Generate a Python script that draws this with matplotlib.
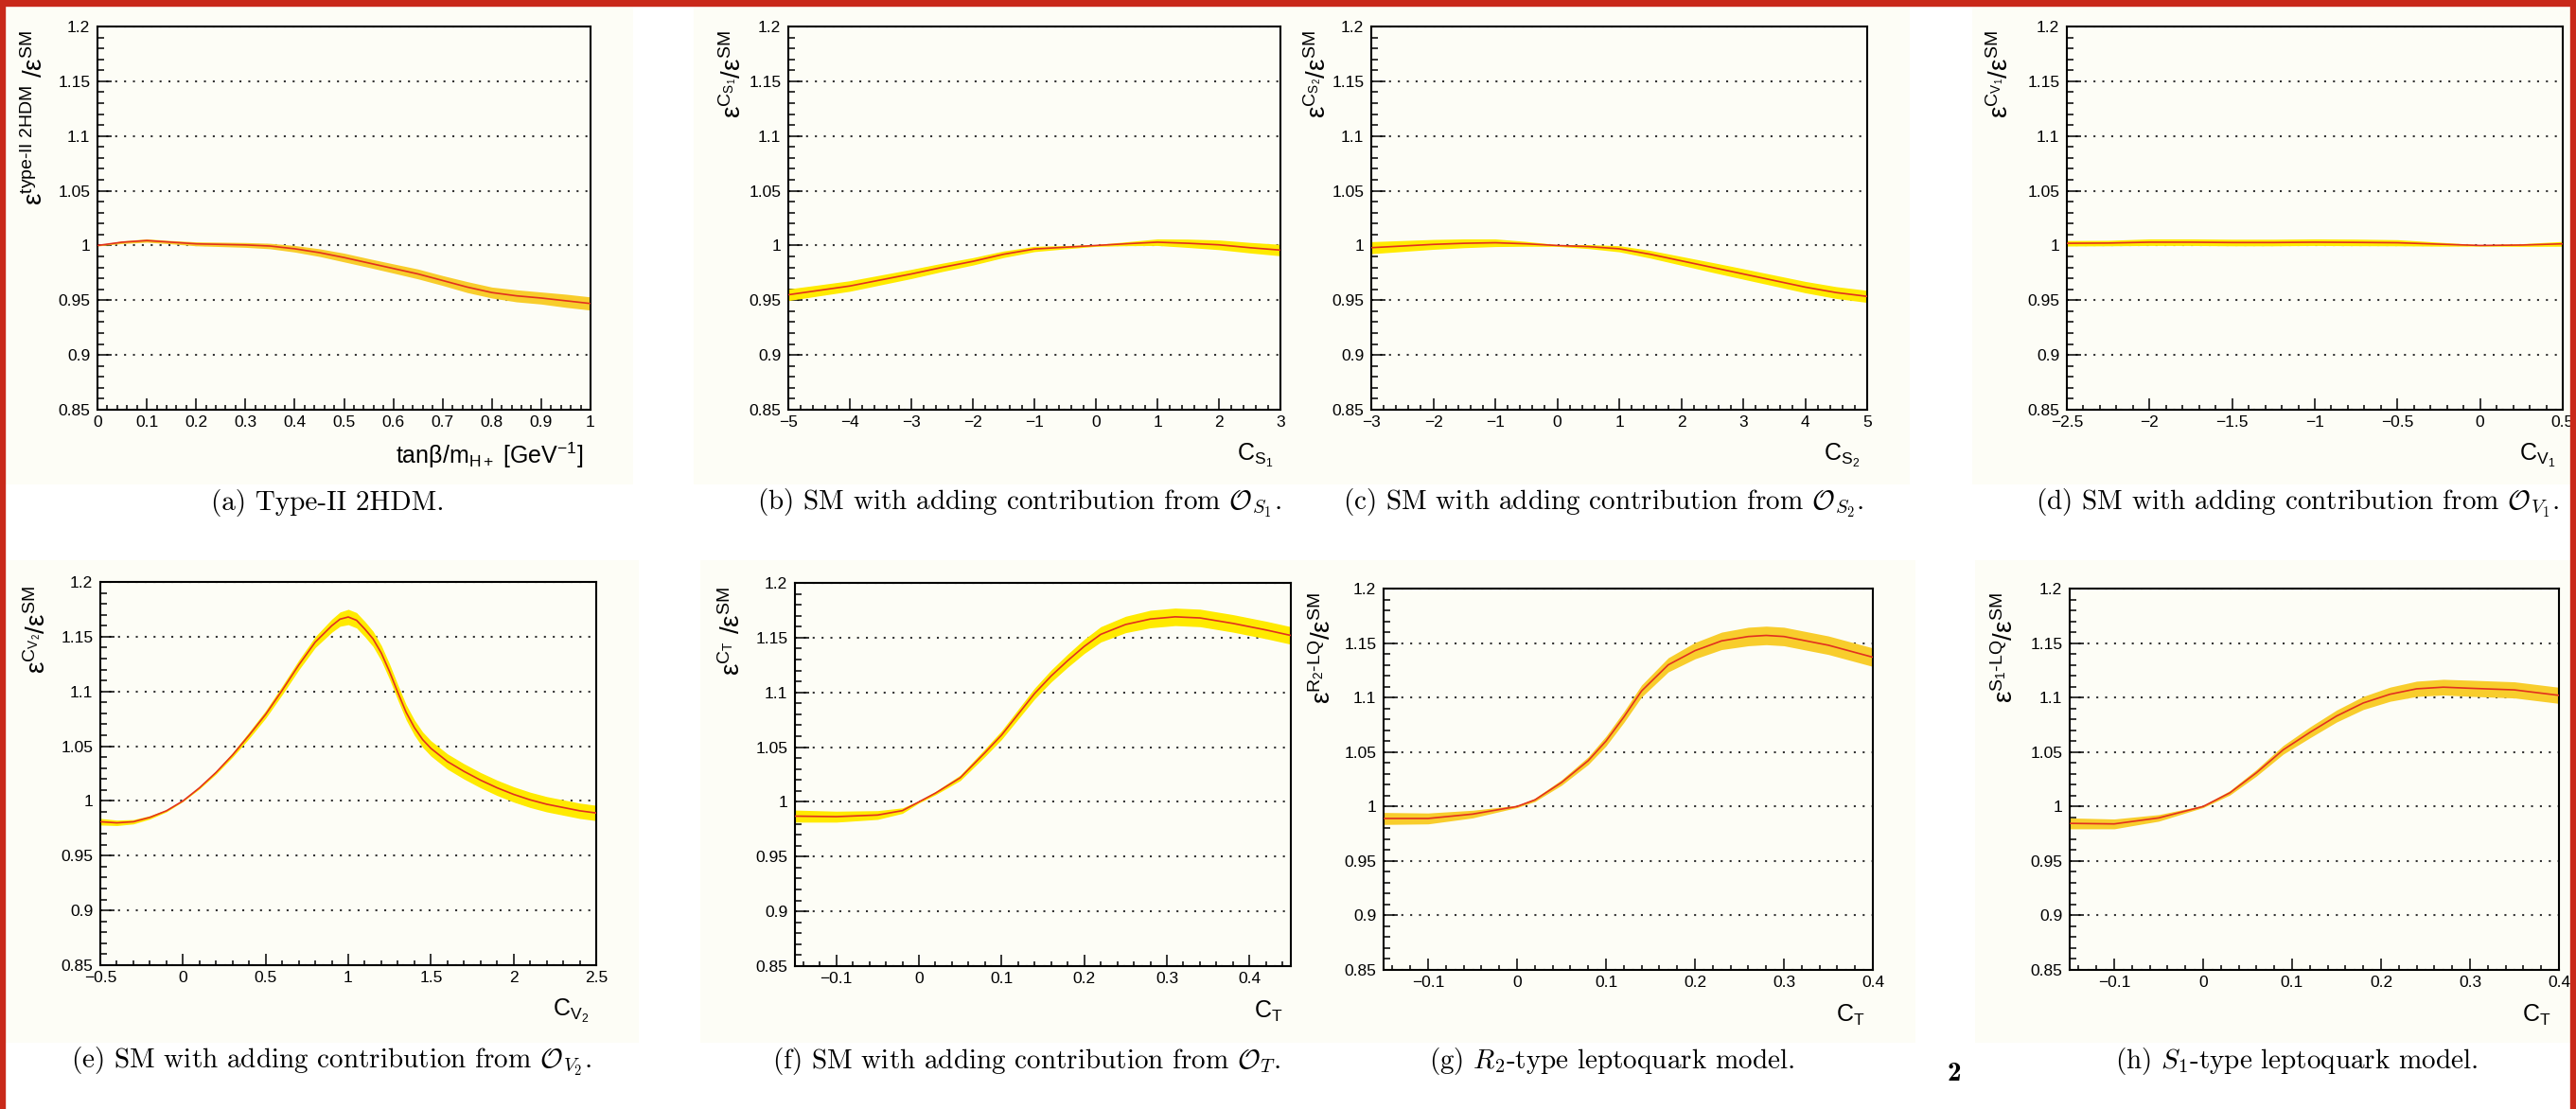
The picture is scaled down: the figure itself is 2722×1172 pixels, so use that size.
import numpy as np
import matplotlib
matplotlib.use("Agg")
import matplotlib.pyplot as plt
from matplotlib.patches import Rectangle
from matplotlib.ticker import MultipleLocator

# ---- data ----
a_x = [0, 0.05, 0.1, 0.15, 0.2, 0.25, 0.3, 0.35, 0.4, 0.45, 0.5, 0.55, 0.6, 0.65, 0.7, 0.75, 0.8, 0.85, 0.9, 0.95, 1.0]
a_y = [1.000, 1.003, 1.0045, 1.003, 1.0015, 1.001, 1.0005, 0.9995, 0.997, 0.9935, 0.989, 0.984, 0.979, 0.974,
       0.968, 0.962, 0.957, 0.954, 0.952, 0.9495, 0.947]
a_err = [0.0005, 0.0012, 0.0015, 0.0015, 0.0018, 0.002, 0.0022, 0.0025, 0.003, 0.0035, 0.004, 0.004, 0.0042,
         0.0045, 0.0045, 0.005, 0.005, 0.0055, 0.0055, 0.006, 0.006]

b_x = [-5, -4.5, -4, -3.5, -3, -2.5, -2, -1.5, -1, -0.5, 0, 0.5, 1, 1.5, 2, 2.5, 3]
b_y = [0.955, 0.959, 0.963, 0.9685, 0.974, 0.980, 0.9855, 0.992, 0.9968, 0.9984, 1.0, 1.0016, 1.003, 1.002,
       1.0006, 0.998, 0.9958]
b_err = [0.0053, 0.005, 0.0048, 0.0045, 0.0042, 0.0038, 0.0034, 0.003, 0.0024, 0.0015, 0.0008, 0.0018, 0.003,
         0.0038, 0.0044, 0.0048, 0.0052]

c_x = [-3, -2.5, -2, -1.5, -1, -0.5, 0, 0.5, 1, 1.5, 2, 2.5, 3, 3.5, 4, 4.5, 5]
c_y = [0.998, 0.9995, 1.001, 1.002, 1.0025, 1.0015, 1.0, 0.999, 0.997, 0.992, 0.986, 0.980, 0.974, 0.968, 0.962,
       0.957, 0.9535]
c_err = [0.0055, 0.005, 0.0045, 0.004, 0.0035, 0.0022, 0.0008, 0.0018, 0.0028, 0.0035, 0.004, 0.0045, 0.0048,
         0.005, 0.0052, 0.0054, 0.0055]

d_x = [-2.5, -2.25, -2, -1.75, -1.5, -1.25, -1, -0.75, -0.5, -0.25, 0, 0.25, 0.5]
d_y = [1.002, 1.0022, 1.003, 1.003, 1.0027, 1.0027, 1.003, 1.0028, 1.0025, 1.0012, 1.0, 1.0004, 1.0015]
d_err = [0.0025, 0.0025, 0.003, 0.003, 0.003, 0.003, 0.003, 0.003, 0.0028, 0.0018, 0.0006, 0.0012, 0.0022]

e_x = [-0.5, -0.4, -0.3, -0.2, -0.1, 0, 0.1, 0.2, 0.3, 0.4, 0.5, 0.6, 0.7, 0.8, 0.9, 0.95, 1.0, 1.05, 1.1,
       1.15, 1.2, 1.25, 1.3, 1.35, 1.4, 1.45, 1.5, 1.6, 1.7, 1.8, 1.9, 2.0, 2.1, 2.2, 2.3, 2.4, 2.5]
e_y = [0.981, 0.980, 0.981, 0.985, 0.991, 1.000, 1.012, 1.026, 1.042, 1.060, 1.079, 1.101, 1.124, 1.145, 1.160,
       1.166, 1.168, 1.165, 1.157, 1.148, 1.135, 1.118, 1.099, 1.081, 1.067, 1.056, 1.048, 1.036, 1.027, 1.019,
       1.012, 1.006, 1.001, 0.997, 0.994, 0.991, 0.989]
e_err = [0.003, 0.0025, 0.002, 0.0015, 0.001, 0.0005, 0.001, 0.0015, 0.002, 0.003, 0.0035, 0.004, 0.0045, 0.005,
         0.006, 0.0065, 0.007, 0.007, 0.007, 0.007, 0.007, 0.007, 0.007, 0.007, 0.007, 0.007, 0.007, 0.007, 0.007,
         0.007, 0.007, 0.007, 0.007, 0.007, 0.007, 0.007, 0.007]

f_x = [-0.15, -0.1, -0.05, -0.02, 0, 0.02, 0.05, 0.08, 0.1, 0.12, 0.14, 0.16, 0.18, 0.2, 0.22, 0.25, 0.28, 0.31,
       0.34, 0.38, 0.42, 0.45]
f_y = [0.987, 0.9865, 0.988, 0.992, 1.0, 1.008, 1.022, 1.045, 1.061, 1.080, 1.099, 1.115, 1.129, 1.142, 1.153,
       1.162, 1.167, 1.169, 1.168, 1.163, 1.157, 1.152]
f_err = [0.0055, 0.005, 0.004, 0.0025, 0.001, 0.0015, 0.0025, 0.0035, 0.004, 0.0045, 0.005, 0.0055, 0.006, 0.0065,
         0.007, 0.0075, 0.008, 0.008, 0.008, 0.008, 0.008, 0.008]

g_x = [-0.15, -0.1, -0.05, 0, 0.02, 0.05, 0.08, 0.1, 0.12, 0.14, 0.17, 0.2, 0.23, 0.26, 0.28, 0.3, 0.35, 0.4]
g_y = [0.989, 0.989, 0.993, 1.0, 1.006, 1.022, 1.042, 1.060, 1.082, 1.106, 1.130, 1.143, 1.152, 1.156, 1.157,
       1.156, 1.148, 1.137]
g_err = [0.0055, 0.005, 0.0035, 0.001, 0.0015, 0.0025, 0.0035, 0.0045, 0.005, 0.0055, 0.0065, 0.0075, 0.008,
         0.0085, 0.0085, 0.0085, 0.0085, 0.0085]

h_x = [-0.15, -0.1, -0.05, 0, 0.03, 0.06, 0.09, 0.12, 0.15, 0.18, 0.21, 0.24, 0.27, 0.3, 0.35, 0.4]
h_y = [0.9845, 0.984, 0.9895, 1.0, 1.0125, 1.031, 1.052, 1.068, 1.083, 1.095, 1.103, 1.108, 1.1095, 1.1085,
       1.107, 1.102]
h_err = [0.005, 0.0045, 0.003, 0.001, 0.002, 0.003, 0.004, 0.005, 0.0055, 0.006, 0.0065, 0.007, 0.0072, 0.0074,
         0.0074, 0.0074]

y_ticks = [0.85, 0.9, 0.95, 1.0, 1.05, 1.1, 1.15, 1.2]
y_ticklabels = ["0.85", "0.9", "0.95", "1", "1.05", "1.1", "1.15", "1.2"]

a_ticks = [0, 0.1, 0.2, 0.3, 0.4, 0.5, 0.6, 0.7, 0.8, 0.9, 1]
a_ticklabels = ["0", "0.1", "0.2", "0.3", "0.4", "0.5", "0.6", "0.7", "0.8", "0.9", "1"]
b_ticks = [-5, -4, -3, -2, -1, 0, 1, 2, 3]
b_ticklabels = ["\u22125", "\u22124", "\u22123", "\u22122", "\u22121", "0", "1", "2", "3"]
c_ticks = [-3, -2, -1, 0, 1, 2, 3, 4, 5]
c_ticklabels = ["\u22123", "\u22122", "\u22121", "0", "1", "2", "3", "4", "5"]
d_ticks = [-2.5, -2, -1.5, -1, -0.5, 0, 0.5]
d_ticklabels = ["\u22122.5", "\u22122", "\u22121.5", "\u22121", "\u22120.5", "0", "0.5"]
e_ticks = [-0.5, 0, 0.5, 1, 1.5, 2, 2.5]
e_ticklabels = ["\u22120.5", "0", "0.5", "1", "1.5", "2", "2.5"]
f_ticks = [-0.1, 0, 0.1, 0.2, 0.3, 0.4]
f_ticklabels = ["\u22120.1", "0", "0.1", "0.2", "0.3", "0.4"]
lq_ticks = [-0.1, 0, 0.1, 0.2, 0.3, 0.4]
lq_ticklabels = ["\u22120.1", "0", "0.1", "0.2", "0.3", "0.4"]

y_titles = [
    r"ε$^{\text{type-II 2HDM}}$ /ε$^{\mathrm{SM}}$",
    r"ε$^{\mathrm{C}_{\mathrm{S}_1}}$/ε$^{\mathrm{SM}}$",
    r"ε$^{\mathrm{C}_{\mathrm{S}_2}}$/ε$^{\mathrm{SM}}$",
    r"ε$^{\mathrm{C}_{\mathrm{V}_1}}$/ε$^{\mathrm{SM}}$",
    r"ε$^{\mathrm{C}_{\mathrm{V}_2}}$/ε$^{\mathrm{SM}}$",
    r"ε$^{\mathrm{C}_{\mathrm{T}}}$ /ε$^{\mathrm{SM}}$",
    r"ε$^{\mathrm{R}_2\text{-LQ}}$/ε$^{\mathrm{SM}}$",
    r"ε$^{\mathrm{S}_1\text{-LQ}}$/ε$^{\mathrm{SM}}$",
]
x_titles = [
    r"tanβ/m$_{\mathrm{H+}}$ [GeV$^{-1}$]",
    r"C$_{\mathrm{S}_1}$",
    r"C$_{\mathrm{S}_2}$",
    r"C$_{\mathrm{V}_1}$",
    r"C$_{\mathrm{V}_2}$",
    r"C$_{\mathrm{T}}$",
    r"C$_{\mathrm{T}}$",
    r"C$_{\mathrm{T}}$",
]
captions = [
    "(a) Type-II 2HDM.",
    r"(b) SM with adding contribution from $\mathcal{O}_{S_1}$.",
    r"(c) SM with adding contribution from $\mathcal{O}_{S_2}$.",
    r"(d) SM with adding contribution from $\mathcal{O}_{V_1}$.",
    r"(e) SM with adding contribution from $\mathcal{O}_{V_2}$.",
    r"(f) SM with adding contribution from $\mathcal{O}_{T}$.",
    r"(g) $R_2$-type leptoquark model.",
    r"(h) $S_1$-type leptoquark model.",
]

# ---- layout (pixels in a 2722x1172 canvas) ----
W, H = 2722, 1172
boxes = [(103, 28, 624, 433), (833, 28, 1353, 433), (1449, 28, 1973, 433), (2184, 28, 2708, 433),
         (106, 615, 630, 1020), (840, 616, 1364, 1021), (1462, 622, 1979, 1025), (2187, 622, 2704, 1025)]
ylabel_gap = [52, 44, 42, 56, 52, 52, 50, 54]
caption_pos = [(346, 532), (1077, 532), (1694, 532), (2428, 532),
               (350, 1122), (1085, 1122), (1703, 1122), (2427, 1122)]
GOLD = "#f8cd2c"
YELLOW = "#ffea00"
LINE = "#e2311f"
CREAM = "#fdfdf6"

plt.rcParams["mathtext.fontset"] = "custom"
plt.rcParams["mathtext.rm"] = "Liberation Sans"
plt.rcParams["mathtext.it"] = "Liberation Sans:italic"
plt.rcParams["mathtext.bf"] = "Liberation Sans:bold"
plt.rcParams["font.family"] = ["Liberation Sans", "DejaVu Sans"]

panels = [
    (a_x, a_y, a_err, (0, 1), a_ticks, a_ticklabels, 0.02, GOLD),
    (b_x, b_y, b_err, (-5, 3), b_ticks, b_ticklabels, 0.2, YELLOW),
    (c_x, c_y, c_err, (-3, 5), c_ticks, c_ticklabels, 0.2, YELLOW),
    (d_x, d_y, d_err, (-2.5, 0.5), d_ticks, d_ticklabels, 0.1, YELLOW),
    (e_x, e_y, e_err, (-0.5, 2.5), e_ticks, e_ticklabels, 0.1, YELLOW),
    (f_x, f_y, f_err, (-0.15, 0.45), f_ticks, f_ticklabels, 0.02, YELLOW),
    (g_x, g_y, g_err, (-0.15, 0.4), lq_ticks, lq_ticklabels, 0.02, GOLD),
    (h_x, h_y, h_err, (-0.15, 0.4), lq_ticks, lq_ticklabels, 0.02, GOLD),
]

fig = plt.figure(figsize=(W / 100, H / 100), dpi=100)
fig.patch.set_facecolor("white")

# cream backgrounds of the embedded ROOT canvases
for (l, t, r, b) in boxes:
    top = 8 if t < 300 else 592
    bottom = 512 if t < 300 else 1102
    fig.patches.append(Rectangle(((l - 100) / W, 1 - bottom / H), (r - l + 145) / W, (bottom - top) / H,
                                 transform=fig.transFigure, facecolor=CREAM, edgecolor="none", zorder=-5))

for i, (x, y, err, xlim, xt, xtl, xminor, band) in enumerate(panels):
    l, t, r, b = boxes[i]
    w, h = r - l, b - t
    ax = fig.add_axes([l / W, 1 - b / H, w / W, h / H])
    ax.set_facecolor(CREAM)
    x = np.array(x)
    y = np.array(y)
    err = np.array(err)
    ax.fill_between(x, y - err, y + err, color=band, lw=0, zorder=2)
    ax.plot(x, y, color=LINE, lw=1.2, zorder=3)

    ax.set_xlim(*xlim)
    ax.set_ylim(0.85, 1.2)
    ax.set_yticks(y_ticks)
    ax.set_yticklabels(y_ticklabels)
    ax.set_xticks(xt)
    ax.set_xticklabels(xtl)
    ax.yaxis.set_minor_locator(MultipleLocator(0.01))
    ax.xaxis.set_minor_locator(MultipleLocator(xminor))
    ax.yaxis.grid(True, which="major", ls=(0, (1, 3.5)), color="#333333", lw=1.5, zorder=1)

    ax.tick_params(axis="y", which="major", direction="in", length=10.8, width=1.1, pad=5.5,
                   left=True, right=False, labelsize=12.5)
    ax.tick_params(axis="y", which="minor", direction="in", length=5, width=1.1, left=True, right=False)
    ax.tick_params(axis="x", which="major", direction="in", length=8.6, width=1.1, pad=4,
                   bottom=True, top=False, labelsize=12.5)
    ax.tick_params(axis="x", which="minor", direction="in", length=3.6, width=1.1, bottom=True, top=False)
    for s in ax.spines.values():
        s.set_linewidth(1.5)

    ax.set_ylabel(y_titles[i], fontsize=20, loc="top")
    ax.yaxis.set_label_coords(-ylabel_gap[i] / w, 1 - 4 / h)
    ax.set_xlabel(x_titles[i], fontsize=18, loc="right")
    ax.xaxis.label.set_va("center")
    ax.xaxis.set_label_coords(1 - 8 / w, -48 / h)

    cx, cy = caption_pos[i]
    fig.text(cx / W, 1 - cy / H, captions[i], ha="center", va="center", fontsize=21,
             family="cmr10", math_fontfamily="cm")

# page number
fig.text(2065 / W, 1 - 1135 / H, "2", ha="center", va="center", fontsize=21, family="cmb10")

# red frame around the page
RED = "#c9291a"
fig.patches.append(Rectangle((0, 0), 5 / W, 1, transform=fig.transFigure, color=RED, zorder=10))
fig.patches.append(Rectangle((0, 1 - 6 / H), 1, 6 / H, transform=fig.transFigure, color=RED, zorder=10))
fig.patches.append(Rectangle((1 - 6 / W, 0), 6 / W, 1, transform=fig.transFigure, color=RED, zorder=10))

fig.savefig("out.png", dpi=100)
